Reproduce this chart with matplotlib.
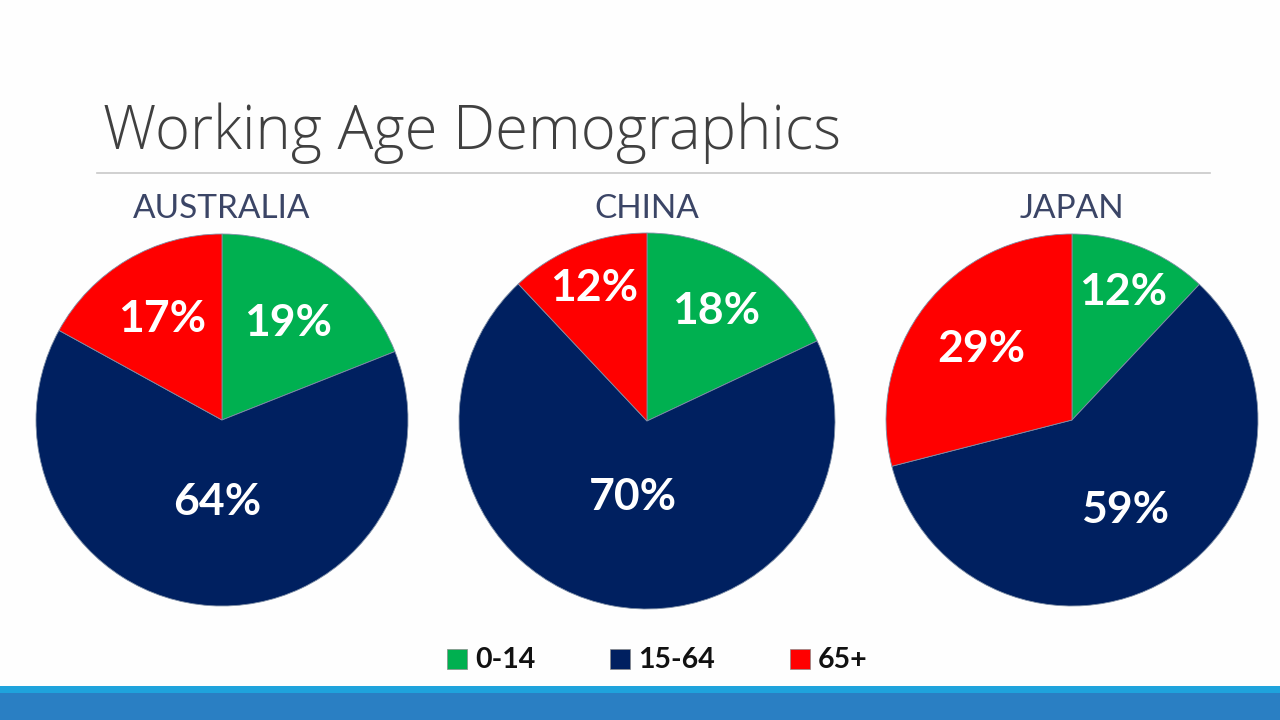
import matplotlib
matplotlib.use("Agg")
import matplotlib.pyplot as plt
from matplotlib.patches import Rectangle
import numpy as np

title = "Working Age Demographics"
countries = ["AUSTRALIA", "CHINA", "JAPAN"]
age_groups = ["0-14", "15-64", "65+"]
australia = [19, 64, 17]
china = [18, 70, 12]
japan = [12, 59, 29]
values = [australia, china, japan]

colors = ["#00b050", "#002060", "#ff0000"]
# label radial distances (fraction of radius), per pie, per wedge
label_dist = [[0.63, 0.44, 0.63], [0.69, 0.41, 0.76], [0.74, 0.56, 0.62]]

W, H = 1280, 720
fig = plt.figure(figsize=(W / 100, H / 100), dpi=100)
fig.patch.set_facecolor("#fefefe")

def fx(px):
    return px / W

def fy(py):
    return 1 - py / H

# title & rule
fig.text(fx(103), fy(133), title, fontsize=43, color="#404040",
         family="Open Sans", weight="light", ha="left", va="center")
fig.add_artist(plt.Line2D([fx(97), fx(1210)], [fy(173), fy(173)],
                          color="#c8c8c8", lw=1.2))

centers = [(222, 420), (647, 421), (1072, 420)]
radii = [186, 188, 186]
for i, (name, vals) in enumerate(zip(countries, values)):
    cx, cy = centers[i]
    r = radii[i]
    ax = fig.add_axes([fx(cx - r), fy(cy + r), 2 * r / W, 2 * r / H])
    wedges, _ = ax.pie(vals, colors=colors, startangle=90, counterclock=False,
                       radius=1, wedgeprops=dict(edgecolor="#7f8fa6", linewidth=0.6))
    total = sum(vals)
    for j, (w, v) in enumerate(zip(wedges, vals)):
        ang = np.deg2rad((w.theta1 + w.theta2) / 2)
        d = label_dist[i][j]
        ax.text(d * np.cos(ang), d * np.sin(ang), f"{round(100 * v / total)}%",
                ha="center", va="center", color="white", fontsize=32,
                weight="bold", family="Lato")
    ax.set_xlim(-1, 1)
    ax.set_ylim(-1, 1)
    ax.set_aspect("equal")
    ax.axis("off")
    fig.text(fx(cx), fy(209), name, ha="center", va="center", fontsize=24,
             color="#3b4566", family="Lato")

# legend
leg_x = [447, 610, 790]
for lbl, c, x in zip(age_groups, colors, leg_x):
    fig.add_artist(Rectangle((fx(x), fy(669)), fx(20), 20 / H,
                             facecolor=c, edgecolor="#8a8a8a", lw=0.5,
                             transform=fig.transFigure))
    fig.text(fx(x + 28), fy(660), lbl, ha="left", va="center", fontsize=20.5,
             weight="bold", color="#111111", family="Lato")

# bottom bar
fig.add_artist(Rectangle((0, 0), 1, 34 / H, facecolor="#1fa3dc",
                         edgecolor="none", transform=fig.transFigure))
fig.add_artist(Rectangle((0, 0), 1, 27 / H, facecolor="#2a7fc3",
                         edgecolor="none", transform=fig.transFigure))

fig.savefig("out.png", dpi=100, facecolor=fig.get_facecolor())
